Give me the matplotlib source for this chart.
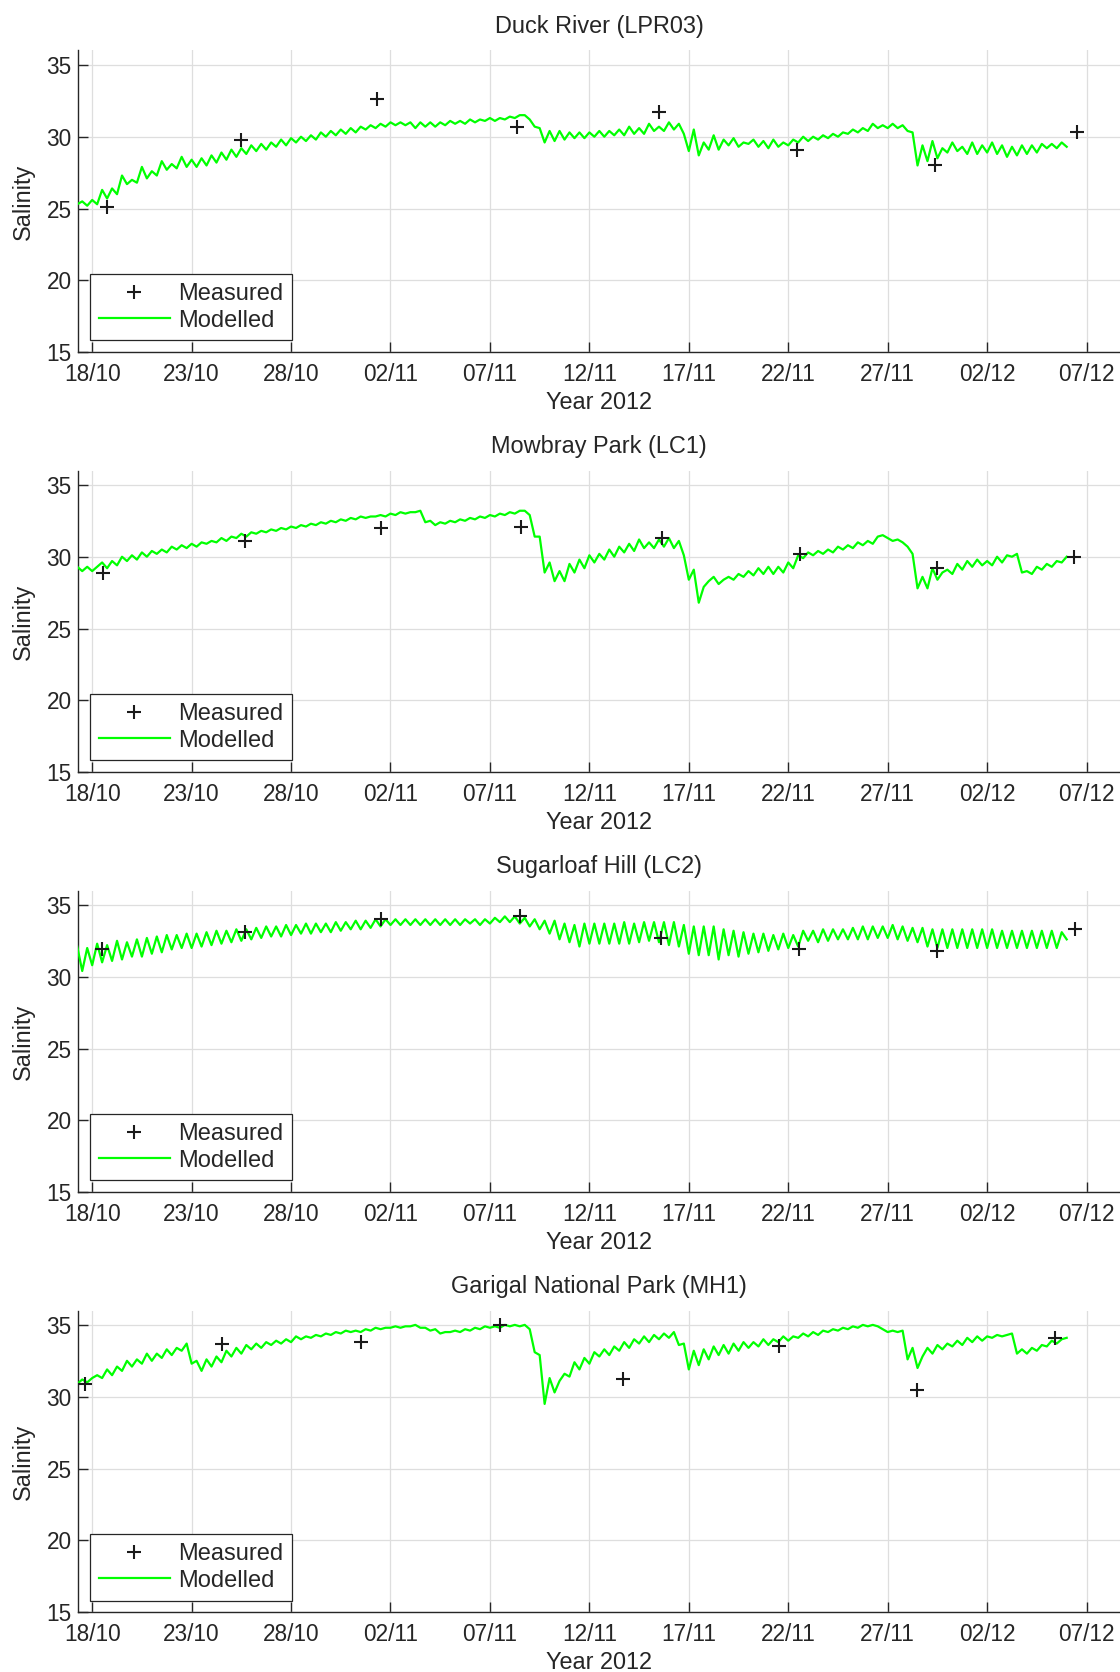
#!/usr/bin/env python3

import pandas as pd
import matplotlib
matplotlib.use("Agg")
import matplotlib.pyplot as plt
import matplotlib.dates as mdates


# =============================================================================
# Data
# =============================================================================

SITES = [
    "Duck River (LPR03)",
    "Mowbray Park (LC1)",
    "Sugarloaf Hill (LC2)",
    "Garigal National Park (MH1)",
]

# Modelled salinity, one value every 6 h starting 17/10/2012 06:00
MODEL_START = "2012-10-17 06:00"

duck_model = [
    25.3, 25.5, 25.2,            # 17/10
    25.6, 25.3, 26.3, 25.7,      # 18/10
    26.4, 26.0, 27.3, 26.7,
    27.0, 26.8, 27.9, 27.1,
    27.6, 27.3, 28.3, 27.7,
    28.1, 27.8, 28.6, 27.9,
    28.4, 27.9, 28.5, 28.0,      # 23/10
    28.7, 28.2, 28.9, 28.4,
    29.1, 28.6, 29.2, 28.8,
    29.4, 29.0, 29.5, 29.1,
    29.6, 29.3, 29.8, 29.4,
    29.9, 29.6, 30.0, 29.7,      # 28/10
    30.1, 29.8, 30.3, 30.0,
    30.4, 30.1, 30.5, 30.2,
    30.6, 30.3, 30.7, 30.5,
    30.8, 30.6, 30.9, 30.7,      # 01/11
    31.0, 30.8, 31.0, 30.8,
    31.0, 30.6, 31.0, 30.7,
    31.0, 30.7, 31.0, 30.8,
    31.1, 30.9, 31.1, 30.9,
    31.2, 31.0, 31.2, 31.1,
    31.3, 31.1, 31.3, 31.2,      # 07/11
    31.4, 31.3, 31.5, 31.5,
    31.2, 30.7, 30.6, 29.6,
    30.4, 29.7, 30.4, 29.8,
    30.3, 29.9, 30.3, 29.9,
    30.3, 30.0, 30.4, 30.0,      # 12/11
    30.4, 30.1, 30.5, 30.1,
    30.7, 30.2, 30.6, 30.2,
    30.9, 30.4, 30.7, 30.4,
    31.0, 30.5, 30.9, 30.2,
    29.0, 30.5, 28.7, 29.6,      # 17/11
    29.1, 30.1, 29.1, 29.8,
    29.4, 29.9, 29.3, 29.6,
    29.5, 29.8, 29.3, 29.7,
    29.2, 29.8, 29.3, 29.6,
    29.4, 29.8, 29.6, 30.0,      # 22/11
    29.7, 30.0, 29.8, 30.1,
    29.9, 30.2, 30.0, 30.3,
    30.2, 30.5, 30.3, 30.6,
    30.4, 30.9, 30.6, 30.8,
    30.6, 30.9, 30.6, 30.8,      # 27/11
    30.4, 30.3, 28.0, 29.4,
    28.3, 29.7, 28.5, 29.2,
    28.9, 29.6, 29.0, 29.3,
    28.8, 29.6, 28.8, 29.4,      # 01/12
    28.9, 29.6, 28.8, 29.4,
    28.6, 29.3, 28.7, 29.4,
    28.8, 29.4, 28.9, 29.5,
    29.2, 29.5, 29.2, 29.6,
    29.3,                        # 06/12
]

mowbray_model = [
    29.3, 29.0, 29.3,            # 17/10
    29.0, 29.3, 29.6, 29.2,      # 18/10
    29.7, 29.4, 30.0, 29.7,
    30.1, 29.8, 30.3, 30.0,
    30.4, 30.2, 30.5, 30.3,
    30.7, 30.5, 30.8, 30.6,
    30.9, 30.7, 31.0, 30.9,      # 23/10
    31.1, 31.0, 31.3, 31.1,
    31.4, 31.3, 31.6, 31.4,
    31.7, 31.6, 31.8, 31.7,
    31.9, 31.8, 32.0, 31.9,
    32.1, 32.0, 32.2, 32.1,      # 28/10
    32.3, 32.2, 32.4, 32.3,
    32.5, 32.4, 32.6, 32.5,
    32.7, 32.6, 32.8, 32.7,
    32.8, 32.8, 32.9, 32.8,      # 01/11
    33.0, 32.9, 33.1, 33.0,
    33.1, 33.1, 33.2, 32.4,
    32.5, 32.2, 32.4, 32.3,
    32.5, 32.4, 32.6, 32.5,
    32.7, 32.6, 32.8, 32.7,
    32.9, 32.8, 33.0, 32.9,      # 07/11
    33.1, 33.0, 33.2, 33.2,
    32.9, 31.4, 31.4, 28.9,
    29.6, 28.3, 29.0, 28.3,
    29.5, 28.9, 29.8, 29.2,
    30.1, 29.6, 30.2, 29.8,      # 12/11
    30.5, 30.0, 30.7, 30.3,
    30.9, 30.4, 31.2, 30.6,
    31.0, 30.6, 31.2, 30.7,
    31.3, 30.6, 31.1, 30.1,
    28.4, 29.1, 26.8, 27.9,      # 17/11
    28.3, 28.6, 28.1, 28.4,
    28.6, 28.4, 28.8, 28.6,
    29.0, 28.7, 29.2, 28.8,
    29.3, 28.8, 29.3, 28.9,
    29.6, 29.2, 30.1, 29.9,      # 22/11
    30.3, 30.1, 30.4, 30.2,
    30.5, 30.3, 30.7, 30.5,
    30.8, 30.6, 31.0, 30.8,
    31.1, 30.9, 31.4, 31.5,
    31.3, 31.1, 31.2, 31.0,      # 27/11
    30.7, 30.2, 27.8, 28.6,
    27.8, 29.2, 28.4, 28.9,
    29.1, 28.8, 29.5, 29.1,
    29.7, 29.3, 29.8, 29.4,      # 01/12
    29.7, 29.4, 30.0, 29.6,
    30.1, 30.0, 30.2, 28.9,
    29.0, 28.8, 29.3, 29.1,
    29.5, 29.3, 29.7, 29.6,
    30.0,                        # 06/12
]

sugarloaf_model = [
    32.1, 30.4, 32.0,            # 17/10
    30.8, 32.3, 31.0, 32.2,      # 18/10
    31.1, 32.5, 31.2, 32.4,
    31.4, 32.6, 31.4, 32.7,
    31.6, 32.8, 31.7, 32.9,
    31.9, 32.9, 32.0, 33.0,
    32.0, 33.0, 32.1, 33.1,      # 23/10
    32.2, 33.2, 32.3, 33.2,
    32.4, 33.3, 32.5, 33.3,
    32.6, 33.4, 32.7, 33.5,
    32.8, 33.5, 32.8, 33.6,
    32.9, 33.6, 33.0, 33.7,      # 28/10
    33.0, 33.7, 33.1, 33.7,
    33.1, 33.8, 33.2, 33.8,
    33.3, 33.9, 33.3, 33.9,
    33.4, 34.0, 33.5, 34.0,      # 01/11
    33.6, 34.0, 33.6, 34.0,
    33.6, 34.0, 33.6, 34.0,
    33.6, 34.0, 33.6, 34.0,
    33.6, 34.0, 33.6, 34.0,
    33.7, 34.0, 33.6, 34.0,
    33.7, 34.1, 33.8, 34.2,      # 07/11
    33.8, 34.2, 33.7, 34.1,
    33.5, 34.0, 33.3, 33.9,
    33.0, 33.9, 32.6, 33.7,
    32.4, 33.6, 32.1, 33.7,
    32.3, 33.7, 32.3, 33.7,      # 12/11
    32.3, 33.7, 32.3, 33.8,
    32.3, 33.7, 32.4, 33.8,
    32.5, 33.8, 32.4, 33.8,
    32.2, 33.8, 32.1, 33.6,
    31.6, 33.5, 31.5, 33.5,      # 17/11
    31.5, 33.5, 31.2, 33.3,
    31.5, 33.2, 31.4, 33.1,
    31.6, 33.0, 31.7, 33.0,
    31.8, 32.9, 31.9, 33.0,
    32.0, 32.9, 32.1, 33.2,      # 22/11
    32.5, 33.2, 32.4, 33.3,
    32.5, 33.3, 32.6, 33.3,
    32.6, 33.4, 32.6, 33.5,
    32.6, 33.5, 32.7, 33.5,
    32.7, 33.6, 32.6, 33.5,      # 27/11
    32.5, 33.4, 32.4, 33.4,
    32.1, 33.3, 32.0, 33.3,
    32.0, 33.3, 32.0, 33.3,
    32.0, 33.3, 32.0, 33.3,      # 01/12
    32.0, 33.3, 32.0, 33.2,
    32.0, 33.2, 32.0, 33.2,
    32.0, 33.2, 32.0, 33.2,
    32.0, 33.2, 32.0, 33.1,
    32.6,                        # 06/12
]

garigal_model = [
    30.9, 31.2, 31.0,            # 17/10
    31.3, 31.5, 31.3, 31.9,      # 18/10
    31.5, 32.1, 31.8, 32.5,
    32.1, 32.6, 32.3, 33.0,
    32.5, 33.0, 32.7, 33.3,
    32.9, 33.4, 33.2, 33.7,
    32.3, 32.5, 31.8, 32.6,      # 23/10
    32.1, 32.8, 32.4, 33.2,
    32.8, 33.4, 33.0, 33.6,
    33.3, 33.7, 33.4, 33.8,
    33.6, 33.9, 33.7, 34.0,
    33.8, 34.2, 34.0, 34.2,      # 28/10
    34.1, 34.3, 34.2, 34.4,
    34.3, 34.5, 34.4, 34.6,
    34.5, 34.6, 34.5, 34.7,
    34.6, 34.8, 34.7, 34.8,      # 01/11
    34.8, 34.9, 34.8, 34.9,
    34.9, 35.0, 34.8, 34.8,
    34.6, 34.7, 34.4, 34.5,
    34.5, 34.6, 34.5, 34.7,
    34.6, 34.8, 34.7, 34.9,
    34.8, 34.9, 34.8, 35.0,      # 07/11
    34.9, 35.0, 34.9, 35.0,
    34.7, 33.1, 32.9, 29.5,
    31.3, 30.3, 31.1, 31.6,
    31.4, 32.4, 31.9, 32.7,
    32.3, 33.1, 32.8, 33.3,      # 12/11
    32.9, 33.5, 33.2, 33.8,
    33.4, 34.0, 33.7, 34.2,
    33.8, 34.3, 34.0, 34.4,
    34.1, 34.5, 33.6, 33.7,
    31.9, 33.2, 32.2, 33.3,      # 17/11
    32.6, 33.5, 32.9, 33.6,
    33.0, 33.7, 33.2, 33.8,
    33.4, 33.8, 33.5, 34.0,
    33.6, 34.0, 33.8, 34.2,
    33.9, 34.2, 34.1, 34.4,      # 22/11
    34.2, 34.5, 34.3, 34.6,
    34.5, 34.7, 34.6, 34.8,
    34.7, 34.9, 34.8, 35.0,
    34.9, 35.0, 34.9, 34.7,
    34.5, 34.6, 34.5, 34.6,      # 27/11
    32.6, 33.4, 32.0, 32.8,
    33.4, 33.0, 33.6, 33.3,
    33.7, 33.5, 33.9, 33.6,
    34.1, 33.8, 34.2, 33.9,      # 01/12
    34.2, 34.1, 34.3, 34.2,
    34.3, 34.4, 33.0, 33.3,
    33.0, 33.4, 33.2, 33.6,
    33.5, 33.9, 33.7, 34.0,
    34.1,                        # 06/12
]

# Measured salinity (sampling date/time, value)
duck_meas_dates = ["2012-10-18 17:30", "2012-10-25 11:45", "2012-11-01 08:10",
                   "2012-11-08 08:25", "2012-11-15 12:00", "2012-11-22 10:00",
                   "2012-11-29 09:00", "2012-12-06 12:45"]
duck_meas = [25.1, 29.8, 32.6, 30.7, 31.7, 29.1, 28.0, 30.3]

mowbray_meas_dates = ["2012-10-18 13:00", "2012-10-25 16:30", "2012-11-01 13:00",
                      "2012-11-08 13:00", "2012-11-15 15:30", "2012-11-22 14:00",
                      "2012-11-29 12:00", "2012-12-06 09:00"]
mowbray_meas = [28.9, 31.1, 32.0, 32.1, 31.3, 30.2, 29.2, 30.0]

sugarloaf_meas_dates = ["2012-10-18 12:15", "2012-10-25 16:30", "2012-11-01 12:45",
                        "2012-11-08 12:15", "2012-11-15 14:30", "2012-11-22 13:30",
                        "2012-11-29 11:00", "2012-12-06 10:00"]
sugarloaf_meas = [31.9, 33.1, 34.0, 34.2, 32.7, 31.9, 31.8, 33.3]

garigal_meas_dates = ["2012-10-17 15:30", "2012-10-24 13:00", "2012-10-31 13:00",
                      "2012-11-07 12:15", "2012-11-13 17:00", "2012-11-21 12:45",
                      "2012-11-28 11:15", "2012-12-05 10:00"]
garigal_meas = [30.9, 33.7, 33.8, 35.0, 31.2, 33.5, 30.5, 34.1]

MODELS = [duck_model, mowbray_model, sugarloaf_model, garigal_model]
MEAS_DATES = [duck_meas_dates, mowbray_meas_dates, sugarloaf_meas_dates, garigal_meas_dates]
MEAS = [duck_meas, mowbray_meas, sugarloaf_meas, garigal_meas]

X_TICKS = pd.date_range("2012-10-18", "2012-12-07", freq="5D")
Y_TICKS = [15, 20, 25, 30, 35]
X_LIM = (pd.Timestamp("2012-10-17 06:50"), pd.Timestamp("2012-12-08 16:20"))
Y_LIM = (15, 36)


# =============================================================================
# Plot
# =============================================================================

plt.rcParams["font.family"] = ["Liberation Sans", "DejaVu Sans"]
GREY = "0.15"
FS = 16.9

fig = plt.figure(figsize=(11.2, 16.72), dpi=100)

bottoms = [0.7893, 0.5381, 0.2869, 0.0357]

for k in range(4):
    ax = fig.add_axes([0.0696, bottoms[k], 0.9304, 0.1805])

    t_model = pd.date_range(MODEL_START, periods=len(MODELS[k]), freq="6h")
    t_meas = pd.to_datetime(MEAS_DATES[k])

    line, = ax.plot(t_model, MODELS[k], color="#00ff00", lw=1.6, zorder=3)
    pts, = ax.plot(t_meas, MEAS[k], linestyle="none", marker="+",
                   markersize=10, markeredgewidth=1.5, color="0.1", zorder=4)

    ax.set_xlim(X_LIM)
    ax.set_ylim(Y_LIM)
    ax.set_xticks(X_TICKS)
    ax.set_yticks(Y_TICKS)
    ax.xaxis.set_major_formatter(mdates.DateFormatter("%d/%m"))

    ax.grid(True, color="0.87", lw=0.9)
    ax.set_axisbelow(True)

    ax.spines["top"].set_visible(False)
    ax.spines["right"].set_visible(False)
    for s in ("left", "bottom"):
        ax.spines[s].set_color(GREY)
        ax.spines[s].set_linewidth(1.0)

    ax.tick_params(axis="both", direction="in", length=7.5, width=1,
                   color=GREY, labelcolor=GREY, labelsize=16.3)
    ax.tick_params(axis="x", pad=7.5)
    ax.tick_params(axis="y", pad=4.5)

    ax.set_title(SITES[k], fontsize=FS, color=GREY, pad=12.5)
    ax.set_xlabel("Year 2012", fontsize=FS, color=GREY, labelpad=3.5)
    ax.set_ylabel("Salinity", fontsize=FS, color=GREY, labelpad=8)

    leg = ax.legend([pts, line], ["Measured", "Modelled"], loc="lower left",
                    bbox_to_anchor=(0, 0), borderaxespad=0.5, fontsize=17,
                    numpoints=1, handlelength=3.0, handletextpad=0.35,
                    borderpad=0.38, labelspacing=0.2, fancybox=False,
                    framealpha=1, edgecolor=GREY)
    leg.get_frame().set_linewidth(0.9)
    for txt in leg.get_texts():
        txt.set_color(GREY)

fig.savefig("out.png", dpi=100)
